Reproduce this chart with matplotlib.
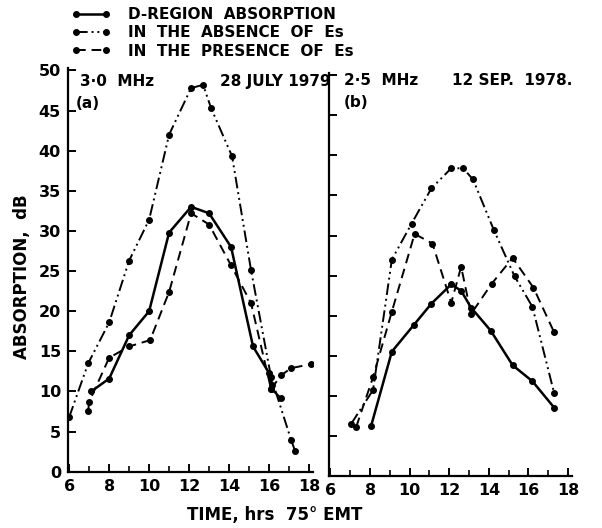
import matplotlib
matplotlib.use("Agg")
import matplotlib.pyplot as plt
from matplotlib.lines import Line2D
from matplotlib.ticker import MultipleLocator

# -------------------- Data --------------------
# panel (a) 3.0 MHz, 28 July 1979
a_d_time = [7.1, 8.0, 9.0, 10.0, 11.0, 12.1, 13.0, 14.1, 15.2, 16.0, 16.15]
a_d_abs = [10.0, 11.6, 17.0, 20.0, 29.8, 33.0, 32.2, 28.0, 15.6, 12.3, 10.8]

a_abs_time = [6.0, 6.95, 8.0, 9.0, 10.0, 11.0, 12.1, 12.7, 13.1, 14.15, 15.1, 16.1, 17.1, 17.3]
a_abs_abs = [6.8, 13.5, 18.6, 26.3, 31.4, 42.0, 47.8, 48.2, 45.3, 39.3, 25.1, 11.8, 4.0, 2.6]

a_pres_time = [6.95, 7.0, 8.0, 9.0, 10.05, 11.0, 12.1, 13.0, 14.1, 15.1, 16.1, 16.6]
a_pres_abs = [7.6, 8.7, 14.2, 15.6, 16.4, 22.4, 32.2, 30.8, 25.7, 21.0, 10.3, 9.2]

a_pres2_time = [16.1, 16.6, 17.1, 18.1]
a_pres2_abs = [10.3, 12.0, 12.9, 13.4]

# panel (b) 2.5 MHz, 12 Sep 1978
b_d_time = [8.05, 9.1, 10.2, 11.1, 12.1, 12.6, 13.1, 14.1, 15.2, 16.2, 17.3]
b_d_abs = [6.2, 15.5, 18.8, 21.5, 23.9, 23.1, 21.0, 18.1, 13.8, 11.8, 8.5]

b_abs_time = [7.05, 8.15, 9.1, 10.1, 11.1, 12.1, 12.7, 13.2, 14.25, 15.3, 16.2, 17.3]
b_abs_abs = [6.5, 10.7, 27.0, 31.5, 35.9, 38.4, 38.4, 37.0, 30.7, 24.9, 21.1, 10.3]

b_pres_time = [7.3, 8.15, 9.1, 10.25, 11.15, 12.1, 12.6, 13.1, 14.15, 15.2, 16.25, 17.3]
b_pres_abs = [6.1, 12.3, 20.5, 30.2, 29.0, 21.6, 26.1, 20.2, 24.0, 27.2, 23.5, 17.9]

legend_labels = ["D-REGION  ABSORPTION",
                 "IN  THE  ABSENCE  OF  Es",
                 "IN  THE  PRESENCE  OF  Es"]

# -------------------- Styles --------------------
SOLID = dict(color="black", lw=1.8, ls="-", marker="o", ms=4)
DDOT = dict(color="black", lw=1.4, ls=(0, (6, 2, 1, 2, 1, 2)), marker="o", ms=4)
DASH = dict(color="black", lw=1.4, ls=(0, (5, 3)), marker="o", ms=4)

plt.rcParams["font.family"] = "DejaVu Sans"

fig = plt.figure(figsize=(6.02, 5.28), dpi=100)
ax_a = fig.add_axes([68 / 602, 1 - 471.7 / 528, (313 - 68) / 602, (471.7 - 68) / 528])
ax_b = fig.add_axes([329.3 / 602, 1 - 475.7 / 528, (572 - 329.3) / 602, (475.7 - 73) / 528])

ax_a.plot(a_d_time, a_d_abs, **SOLID)
ax_a.plot(a_abs_time, a_abs_abs, **DDOT)
ax_a.plot(a_pres_time, a_pres_abs, **DASH)
ax_a.plot(a_pres2_time, a_pres2_abs, **DASH)

ax_b.plot(b_d_time, b_d_abs, **SOLID)
ax_b.plot(b_abs_time, b_abs_abs, **DDOT)
ax_b.plot(b_pres_time, b_pres_abs, **DASH)

for ax in (ax_a, ax_b):
    ax.set_xlim(5.94, 18.2)
    ax.set_ylim(0, 50.3)
    for s in ("top", "right"):
        ax.spines[s].set_visible(False)
    for s in ("left", "bottom"):
        ax.spines[s].set_linewidth(1.6)
    ax.xaxis.set_major_locator(MultipleLocator(2))
    ax.xaxis.set_minor_locator(MultipleLocator(1))
    ax.yaxis.set_major_locator(MultipleLocator(5))
    ax.tick_params(which="major", direction="in", length=6, width=1.4,
                   labelsize=11.5, pad=5)
    ax.tick_params(which="minor", direction="in", length=4, width=1.2)
    for lab in ax.get_xticklabels() + ax.get_yticklabels():
        lab.set_fontweight("bold")

ax_b.tick_params(axis="y", labelleft=False)

fig.text(22 / 602, 1 - 277 / 528, "ABSORPTION,  dB", fontsize=12, rotation=90,
         ha="center", va="center", fontweight="bold")
fig.text(275 / 602, 1 - 515 / 528, "TIME, hrs  75° EMT", fontsize=12,
         ha="center", va="center", fontweight="bold")

# panel texts
ax_a.text(0.05, 0.985, "3·0  MHz", transform=ax_a.transAxes, fontsize=11, va="top",
          fontweight="bold")
ax_a.text(0.03, 0.93, "(a)", transform=ax_a.transAxes, fontsize=11, va="top",
          fontweight="bold")
ax_a.text(1.07, 0.985, "28 JULY 1979", transform=ax_a.transAxes, fontsize=11,
          va="top", ha="right", fontweight="bold")
ax_b.text(0.06, 1.0, "2·5  MHz", transform=ax_b.transAxes, fontsize=11, va="top",
          fontweight="bold")
ax_b.text(0.06, 0.945, "(b)", transform=ax_b.transAxes, fontsize=11, va="top",
          fontweight="bold")
ax_b.text(1.0, 1.0, "12 SEP.  1978.", transform=ax_b.transAxes, fontsize=11,
          va="top", ha="right", fontweight="bold")

handles = [Line2D([], [], **SOLID), Line2D([], [], **DDOT), Line2D([], [], **DASH)]
leg = fig.legend(handles, legend_labels, loc="upper left",
                 bbox_to_anchor=(62 / 602, 1.004), frameon=False, numpoints=2,
                 fontsize=11, handlelength=2.6, handletextpad=1.1,
                 labelspacing=0.22, borderpad=0.1)
for t in leg.get_texts():
    t.set_fontweight("bold")

fig.savefig("out.png", dpi=100, facecolor="white")
